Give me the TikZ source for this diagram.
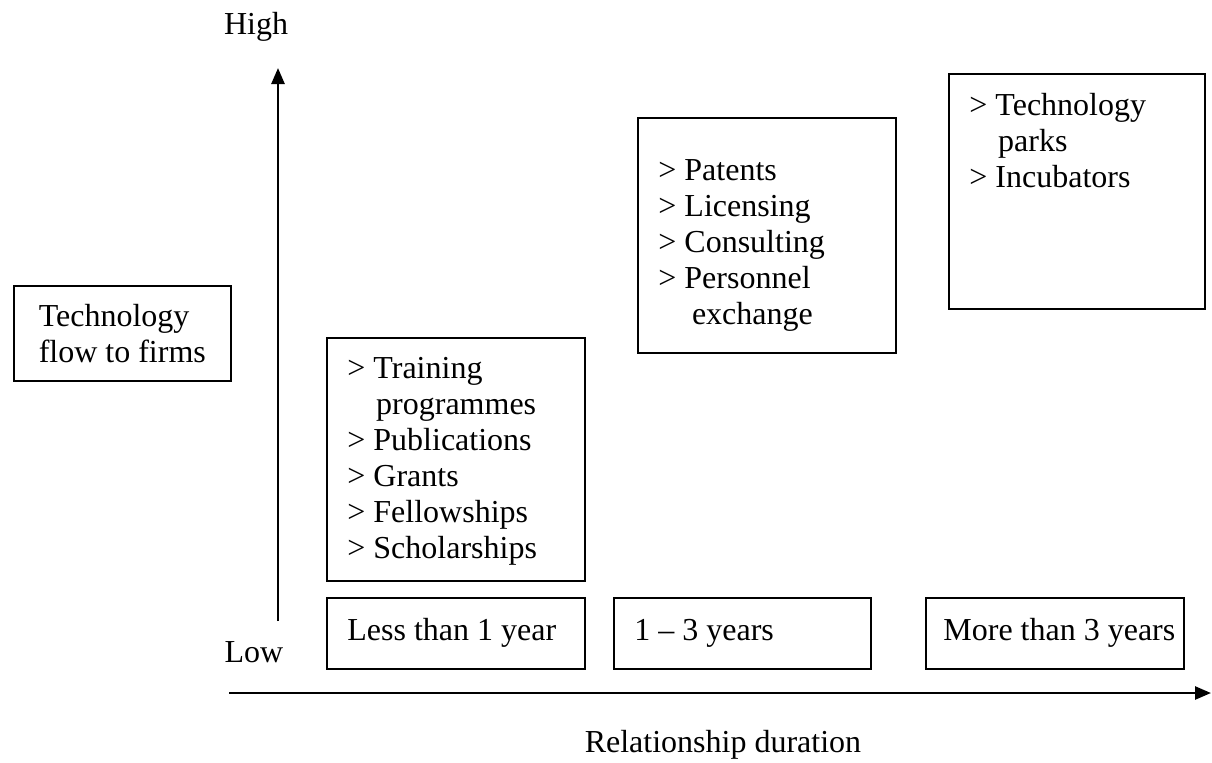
\documentclass[tikz,border=0pt]{standalone}
\usepackage{fontspec}
\setmainfont{Liberation Serif}
\usepackage{tikz}
\usetikzlibrary{positioning}
\usetikzlibrary{arrows.meta}

\newcommand{\ind}{\hspace*{0.9em}}

\begin{document}
\begin{tikzpicture}[x=0.5pt,y=-0.5pt,
  every node/.style={font=\fontsize{16pt}{18pt}\selectfont},
  box/.style={draw,line width=0.8pt,inner sep=0pt},
  span/.style={box,anchor=north west,minimum width=129pt,minimum height=35.5pt},
  spantxt/.style={inner sep=0pt},
  list/.style={align=flush left,inner xsep=10.5pt,inner ysep=0pt},
  axis/.style={line width=1.3pt,-{Triangle[length=8pt,width=6.5pt]}}]

\useasboundingbox (0,0) rectangle (1212,762);

\node[box,anchor=north west,minimum width=108.5pt,minimum height=47.5pt,align=flush left] (flow) at (13,285) {Technology\\flow to firms};

\node[box,anchor=north west,minimum width=129pt,minimum height=121.5pt] (train) at (326,337) {};
\node[box,anchor=north west,minimum width=129pt,minimum height=117.5pt] (pat) at (637,117) {};
\node[box,anchor=north west,minimum width=128pt,minimum height=117.5pt] (parks) at (948,73) {};

\node[list,below=10pt of train.north west,anchor=north west] (train list) {> Training\\\ind programmes\\> Publications\\> Grants\\> Fellowships\\> Scholarships};
\node[list,below=21pt of pat.north west,anchor=north west] (pat list) {> Patents\\> Licensing\\> Consulting\\> Personnel\\\ind\hspace*{0.15em}exchange};
\node[list,below=10pt of parks.north west,anchor=north west] (parks list) {> Technology\\\ind parks\\> Incubators};

\node[span] (short) at (326,597) {};
\node[span,minimum width=128.5pt] (mid) at (613,597) {};
\node[span] (long) at (925,597) {};
\node[spantxt,right=10.5pt of short.west] (short txt) {Less than 1 year};
\node[spantxt,right=10.5pt of mid.west] (mid txt) {1 -- 3 years};
\node[spantxt,right=9pt of long.west] (long txt) {More than 3 years};

\coordinate (v0) at (278,621);
\coordinate (v1) at (278,68);
\coordinate (h0) at (229,693);
\coordinate (h1) at (1211,693);
\draw[axis] (v0) -- (v1);
\draw[axis] (h0) -- (h1);

\node (high) at (256,27) {High};
\node (low) at (254,652) {Low};
\node (dur) at (723,745) {Relationship duration};
\end{tikzpicture}
\end{document}
